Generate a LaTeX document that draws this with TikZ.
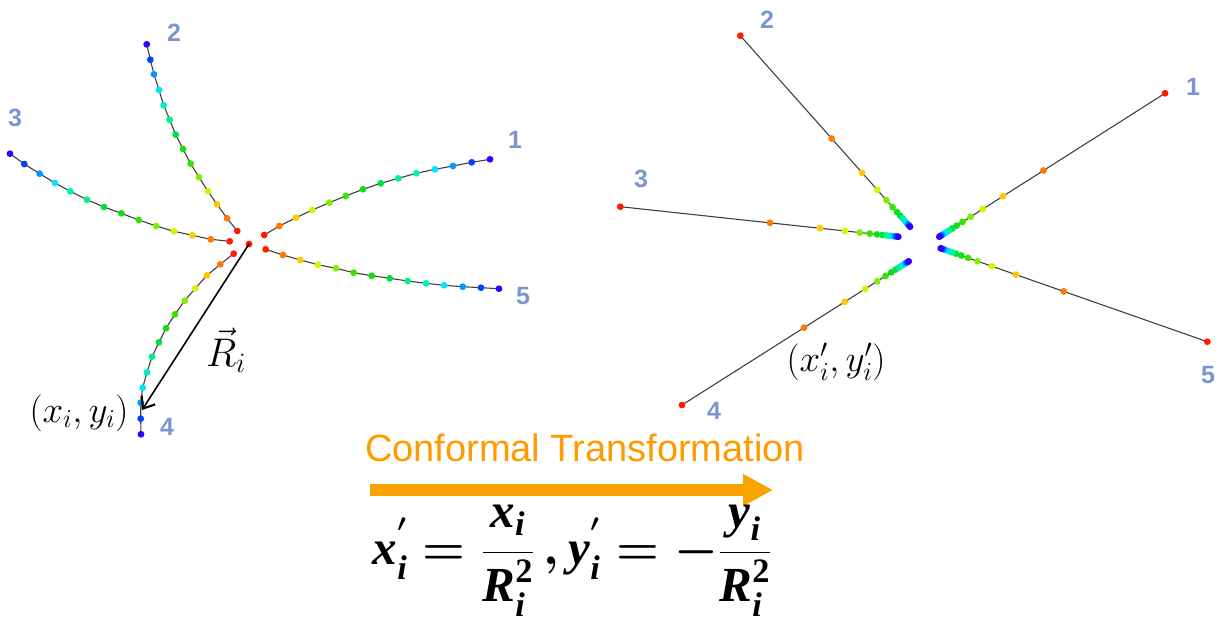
\RequirePackage{fix-cm}
\documentclass[tikz,border=0pt]{standalone}
\usepackage{fontspec}
\usepackage{amsmath}
\usepackage{tikz}
\usetikzlibrary{calc,arrows.meta}
\newfontfamily\labelfont{Liberation Sans}
\newfontfamily\tnrfont{Liberation Serif}
\newcommand{\tv}[1]{\text{\tnrfont\bfseries\itshape #1}}
\newcommand{\tn}[1]{\text{\tnrfont\bfseries #1}}
\definecolor{jet0}{HTML}{FF1A00}
\definecolor{jet1}{HTML}{FF7A00}
\definecolor{jet2}{HTML}{FFC800}
\definecolor{jet3}{HTML}{D4F500}
\definecolor{jet4}{HTML}{80F000}
\definecolor{jet5}{HTML}{33E600}
\definecolor{jet6}{HTML}{10E010}
\definecolor{jet7}{HTML}{00E040}
\definecolor{jet8}{HTML}{00F08A}
\definecolor{jet9}{HTML}{00F0C0}
\definecolor{jet10}{HTML}{00E5FF}
\definecolor{jet11}{HTML}{0099FF}
\definecolor{jet12}{HTML}{0040FF}
\definecolor{jet13}{HTML}{3300FF}
\definecolor{tracknum}{HTML}{7A96D2}
\definecolor{textorange}{HTML}{FF9A00}
\definecolor{arrorange}{HTML}{F9A300}

\begin{document}
\begin{tikzpicture}[x=1pt,y=-1pt,
  trk/.style={draw=black!75,line width=1.1pt},
  num/.style={text=tracknum,font=\labelfont\bfseries\fontsize{25}{25}\selectfont},
  coordlabel/.style={font=\fontsize{37}{42}\selectfont},
  bigarr/.style={draw=arrorange,line width=12pt,-{Triangle[length=30pt,width=30pt]}},
  vecarr/.style={draw=black,line width=1.6pt,-{Straight Barb[length=10pt,width=16pt,line width=2.2pt]}}]
\useasboundingbox (0,0) rectangle (1223,624);

% left: curved tracks from the vertex
\coordinate (vtx) at (249,244);
\foreach \tr/\pts in {
  1/{264.3/235,279.3/226,296/217.7,312.3/210,329.3/202.7,345.7/196,363/189.3,380.7/183.3,398.3/178.3,416.3/173.3,435/169.3,453/166,471.7/162.3,490/159.3},
  2/{237.3/231,227/218.3,217/204.3,208/191.3,199/177.3,190.7/163.7,183/149,175.7/134.7,169.7/119.7,163.7/105.3,159/90,154/74.3,150.3/59.7,146.7/44.3},
  3/{229.7/241.3,210.7/239.3,192.3/235.3,174/231.3,156.3/226,138.7/220,121.3/213.3,104/207,87/199.7,70.3/191.3,55/183,39.7/173.7,24.3/164,10/153.7},
  4/{233.7/253.7,220.3/264.3,207/275.3,195.3/288.3,184.7/300.7,175/314.3,166/328.3,159/342.3,152/356.7,147/372.3,142.7/387.7,140.7/402.7,140.7/418.7,141/434.3},
  5/{265.7/249.3,283/255,300.3/260,318/264.7,336/268.3,353.7/272.7,371.7/275.7,389.7/278.3,407.7/281,426/283.3,444/285.3,462.7/286.7,481/287.7,499/288.7}} {
  \foreach \x/\y [count=\k from 0] in \pts
    \coordinate (a\tr-\k) at (\x,\y);
  \draw[trk] (a\tr-0) \foreach \k in {1,...,13} {-- (a\tr-\k)};
  \foreach \k in {0,...,13}
    \fill[jet\k] (a\tr-\k) circle (3.4);
}
\fill[jet0] (vtx) circle (3.4);
\coordinate (Rtip) at (142,410);
\draw[vecarr] (vtx) -- (Rtip);
\node[coordlabel,font=\fontsize{40}{44}\selectfont] (Rlab) at (226,350) {$\vec{R}_i$};
\node[coordlabel] (xy) at (79,413) {$\left(x_i,y_i\right)$};

\node[num] (l1) at (515,140) {1};
\node[num] (l2) at (174,33) {2};
\node[num] (l3) at (15,118) {3};
\node[num] (l4) at (167,427) {4};
\node[num] (l5) at (523,296) {5};

% right: inverted tracks are straight lines
\foreach \tr/\rx/\ry/\bx/\by in {1/1165/93.3/939.3/236.7, 2/740.3/35.7/910/226.7,
    3/620.3/206.7/898.3/236.7, 4/682/405/908.7/261.3, 5/1207.3/341.7/940.7/248.3} {
  \coordinate (r\tr) at (\rx,\ry);
  \coordinate (b\tr) at (\bx,\by);
  \draw[trk] (r\tr) -- (b\tr);
  \foreach \k in {0,...,13} {
    \pgfmathsetmacro\s{(14/(\k+1)-1)/13}
    \fill[jet\k] ($(b\tr)!\s!(r\tr)$) circle (3.4);
  }
}
\node[coordlabel] (xyp) at (836,362) {$\left(x'_i,y'_i\right)$};

\node[num] (m1) at (1193,87) {1};
\node[num] (m2) at (767,20) {2};
\node[num] (m3) at (641,179) {3};
\node[num] (m4) at (714,411) {4};
\node[num] (m5) at (1208,375) {5};

% transformation
\node[text=textorange,font=\labelfont\fontsize{38}{40}\selectfont,anchor=base] (ttl) at (585,461) {Conformal Transformation};
\coordinate (ta) at (370,490);
\coordinate (tb) at (773,490);
\draw[bigarr] (ta) -- (tb);
\node[font=\fontsize{49}{56}\selectfont,inner sep=1pt] (eq) at (572,561)
  {$\boldsymbol{\displaystyle \tv{x}^{'}_{\tv{i}}=\frac{\tv{x}_{\tv{i}}}{\tv{R}^{\tn{2}}_{\tv{i}}}\,,\tv{y}^{'}_{\tv{i}}=-\frac{\tv{y}_{\tv{i}}}{\tv{R}^{\tn{2}}_{\tv{i}}}}$};
\end{tikzpicture}
\end{document}
